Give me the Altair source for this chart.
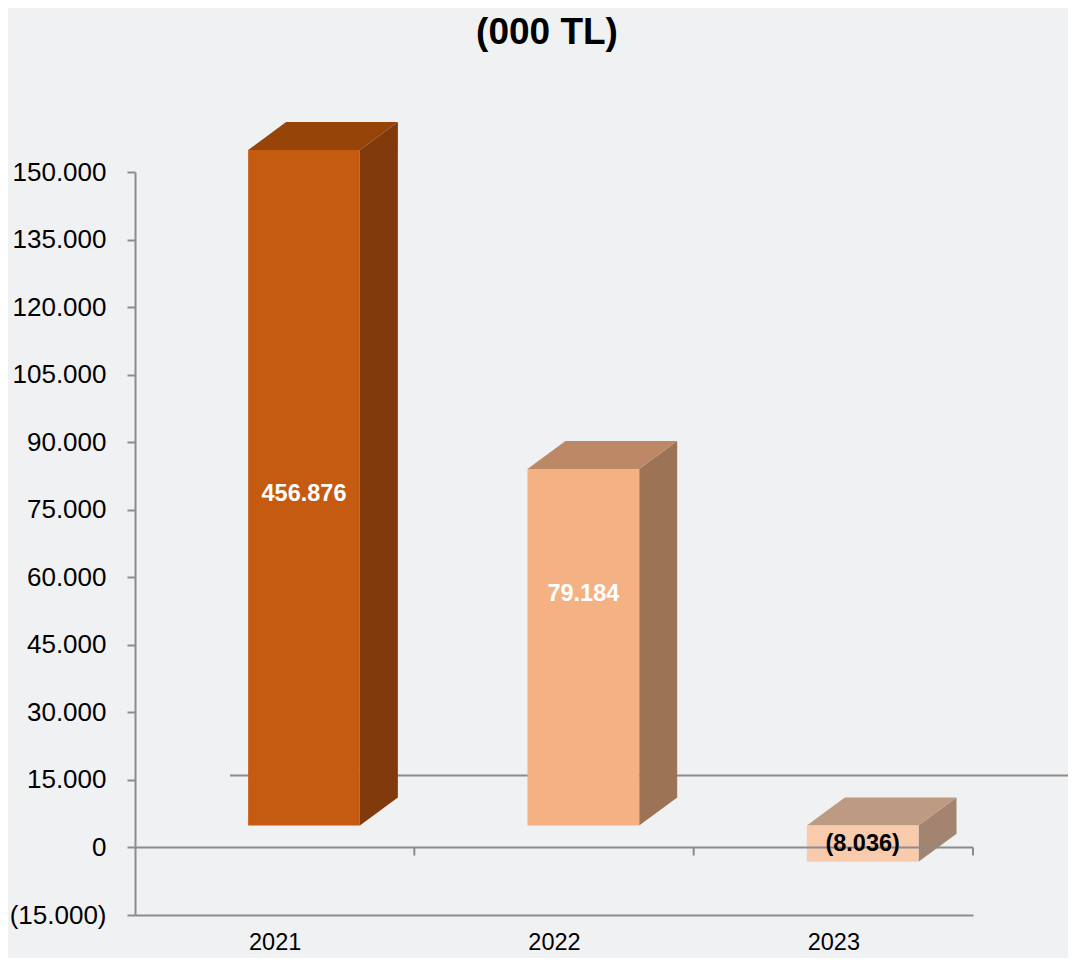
import altair as alt
import pandas as pd

# ---- data ----
YEARS = ["2021", "2022", "2023"]
VALUES = [456876, 79184, -8036]          # labelled values (000 TL)
Y_TICKS = list(range(-15000, 150001, 15000))
TITLE = "(000 TL)"

# ---- styling ----
FRONT = ["#C55A11", "#F4B183", "#F8CBAD"]
SIDE = ["#813A0B", "#9C7455", "#A28470"]
TOP = ["#974409", "#BD8866", "#BD9A82"]
LABEL_COLORS = ["#FFFFFF", "#FFFFFF", "#000000"]
LABEL_FRAC = [0.49, 0.65, 0.5]
LINE = "#8C8C8C"
FONT = "Liberation Sans"

Y_MIN, Y_MAX = -15000, 150000
BAR_L, BAR_W = 0.405, 0.4       # bar front face inside each category slot
DX, DY = 0.136, 6200            # bar depth (x units, y units)
LIFT = -22                      # front plane lift in px
FLOOR_DX, FLOOR_DY = 0.34, 16000
TICK_LEN = 1800


def fmt(v):
    s = f"{abs(v):,}".replace(",", ".")
    return f"({s})" if v < 0 else s


front_rows, side_rows, top_rows, lab_rows = [], [], [], []
for i, (yr, v) in enumerate(zip(YEARS, VALUES)):
    pv = min(v, Y_MAX)
    hi, lo = max(pv, 0), min(pv, 0)
    L = i + BAR_L
    R = L + BAR_W
    front_rows.append(dict(year=yr, x=L, x2=R, y=hi, y2=lo))
    side_rows += [
        dict(year=yr, x=R, y=hi, y2=lo),
        dict(year=yr, x=R + DX, y=hi + DY, y2=lo + DY),
    ]
    top_rows += [
        dict(year=yr, x=L, y=hi, y2=hi),
        dict(year=yr, x=L + DX, y=hi + DY, y2=hi),
        dict(year=yr, x=R, y=hi + DY, y2=hi),
        dict(year=yr, x=R + DX, y=hi + DY, y2=hi + DY),
    ]
    lab_rows.append(dict(year=yr, x=(L + R) / 2, y=lo + LABEL_FRAC[i] * (hi - lo), text=fmt(v)))

front_df = pd.DataFrame(front_rows)
side_df = pd.DataFrame(side_rows)
top_df = pd.DataFrame(top_rows)
lab_df = pd.DataFrame(lab_rows)

n = len(YEARS)
xs = alt.Scale(domain=[0, n], nice=False, zero=False)
ys = alt.Scale(domain=[Y_MIN, Y_MAX], nice=False, zero=False)

year_list = "[" + ",".join(f"'{y}'" for y in YEARS) + "]"
x_axis = alt.Axis(
    values=[k + 0.5 for k in range(n)],
    labelExpr=f"{year_list}[floor(datum.value)]",
    ticks=False, grid=False, domainColor=LINE, domainWidth=2,
    labelFontSize=23.5, labelFont=FONT, labelColor="#000000",
    labelPadding=15, title=None,
)
y_axis = alt.Axis(
    values=Y_TICKS,
    labelExpr="datum.value < 0 ? '(' + replace(format(-datum.value, ','), ',', '.') + ')' : replace(format(datum.value, ','), ',', '.')",
    grid=False, domainColor=LINE, domainWidth=2, tickColor=LINE, tickWidth=2,
    tickSize=8, labelFontSize=26, labelFont=FONT, labelColor="#000000",
    labelPadding=21, title=None,
)

floor = alt.Chart(pd.DataFrame([dict(x=FLOOR_DX, x2=n + FLOOR_DX, y=FLOOR_DY)])).mark_rule(
    color=LINE, strokeWidth=2
).encode(
    x=alt.X("x:Q", scale=xs, axis=x_axis), x2="x2:Q",
    y=alt.Y("y:Q", scale=ys, axis=y_axis),
)

side = alt.Chart(side_df).mark_area(yOffset=LIFT, y2Offset=LIFT, opacity=1).encode(
    x=alt.X("x:Q", scale=xs),
    y=alt.Y("y:Q", scale=ys, stack=None), y2="y2:Q",
    detail="year:N",
    color=alt.Color("year:N", scale=alt.Scale(domain=YEARS, range=SIDE), legend=None),
)
top = alt.Chart(top_df).mark_area(yOffset=LIFT, y2Offset=LIFT, opacity=1).encode(
    x=alt.X("x:Q", scale=xs),
    y=alt.Y("y:Q", scale=ys, stack=None), y2="y2:Q",
    detail="year:N",
    color=alt.Color("year:N", scale=alt.Scale(domain=YEARS, range=TOP), legend=None),
)
front = alt.Chart(front_df).mark_bar(yOffset=LIFT, y2Offset=LIFT, opacity=1).encode(
    x=alt.X("x:Q", scale=xs), x2="x2:Q",
    y=alt.Y("y:Q", scale=ys), y2="y2:Q",
    color=alt.Color("year:N", scale=alt.Scale(domain=YEARS, range=FRONT), legend=None),
)

zero = alt.Chart(pd.DataFrame([dict(x=0, x2=n, y=0)])).mark_rule(color=LINE, strokeWidth=2).encode(
    x=alt.X("x:Q", scale=xs), x2="x2:Q",
    y=alt.Y("y:Q", scale=ys),
)
ticks = alt.Chart(pd.DataFrame([dict(x=k, y=0, y2=-TICK_LEN) for k in range(1, n + 1)])).mark_rule(
    color=LINE, strokeWidth=2
).encode(
    x=alt.X("x:Q", scale=xs),
    y=alt.Y("y:Q", scale=ys), y2="y2:Q",
)

labels = alt.Chart(lab_df).mark_text(
    yOffset=LIFT, font=FONT, fontSize=23.5, fontWeight="bold", align="center", baseline="middle"
).encode(
    x=alt.X("x:Q", scale=xs),
    y=alt.Y("y:Q", scale=ys),
    text="text:N",
    color=alt.Color("year:N", scale=alt.Scale(domain=YEARS, range=LABEL_COLORS), legend=None),
)

chart = alt.layer(floor, side, top, front, zero, ticks, labels).resolve_scale(color="independent").properties(
    width=838, height=743,
    padding={"left": 127, "top": 164, "right": 95, "bottom": 43},
    autosize=alt.AutoSizeParams(type="none"),
    background="#F0F1F3",
    title=alt.TitleParams(
        TITLE, font=FONT, fontSize=37, fontWeight="bold", color="#000000",
        anchor="middle", offset=70, dx=-7,
    ),
).configure_view(stroke=None)

chart.save("out.html", embed_options={"renderer": "svg", "actions": False})
